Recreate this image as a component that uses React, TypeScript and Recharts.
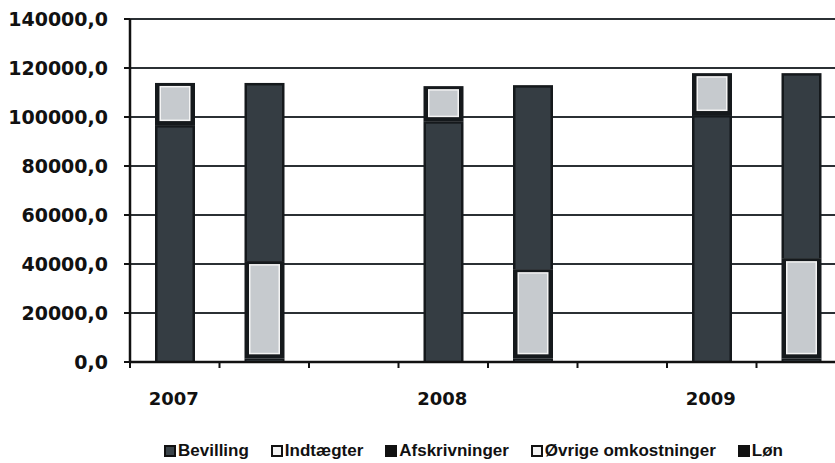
import { Bar, BarChart, CartesianGrid, XAxis, YAxis } from "recharts";

const years = ["2007", "2008", "2009"];
const bevilling = [96700, 98300, 100800];
const indtaegter = [17200, 14300, 17100];
const afskrivninger = [1500, 1500, 1500];
const ovrige = [39700, 36400, 40900];
const lon = [72700, 75100, 75500];
const yTicks = [0, 20000, 40000, 60000, 80000, 100000, 120000, 140000];

const series = [
  { key: "Bevilling", light: false, swatch: "#3a4349" },
  { key: "Indtægter", light: true, swatch: "#f2f2f2" },
  { key: "Afskrivninger", light: false, swatch: "#111" },
  { key: "Øvrige omkostninger", light: true, swatch: "#f2f2f2" },
  { key: "Løn", light: false, swatch: "#111" }
];

// each year: income bar, expense bar, empty gap
const data = years.flatMap((year, i) => [
  { cat: year, label: year, Bevilling: bevilling[i], "Indtægter": indtaegter[i] },
  {
    cat: year + "-u",
    label: "",
    Afskrivninger: afskrivninger[i],
    "Øvrige omkostninger": ovrige[i],
    "Løn": lon[i]
  },
  { cat: year + "-g", label: "" }
]);

const CHART_W = 950;
const MARGIN = { top: 19, right: 14.5, bottom: 61, left: 0 };
const Y_W = 130;
const BAND = (CHART_W - Y_W - MARGIN.right) / data.length;

function Segment(props: any) {
  const { x, y, width, height, light } = props;
  if (!height || height <= 0) return null;
  if (light) {
    const side = Math.min(4.5, width / 2);
    const top = Math.min(3, height / 2);
    const bottom = Math.min(4, height / 2);
    const w2 = Math.max(0, width - 2 * side);
    const h2 = Math.max(0, height - top - bottom);
    return (
      <g>
        <rect x={x} y={y} width={width} height={height} fill="#15191c" />
        <rect x={x + side} y={y + top} width={w2} height={h2} fill="#f4f4f4" />
        <rect
          x={x + side + 1.5}
          y={y + top + 1.5}
          width={Math.max(0, w2 - 3)}
          height={Math.max(0, h2 - 3)}
          fill="#c6cace"
        />
      </g>
    );
  }
  const inset = Math.min(2.5, height / 2);
  return (
    <g>
      <rect x={x} y={y} width={width} height={height} fill="#15191c" />
      <rect
        x={x + inset}
        y={y + inset}
        width={Math.max(0, width - 2 * inset)}
        height={Math.max(0, height - inset)}
        fill="#353d43"
      />
    </g>
  );
}

function XTick(props: any) {
  const { x, y, payload } = props;
  const row = data.find((d) => d.cat === payload.value);
  return (
    <g>
      <line x1={x - BAND / 2} x2={x - BAND / 2} y1={y} y2={y + 6} stroke="#111" strokeWidth={2} />
      <text
        x={x - 1}
        y={y + 42.5}
        textAnchor="middle"
        fill="#111"
        fontFamily="DejaVu Sans"
        fontWeight="bold"
        fontSize={18}
      >
        {row ? row.label : ""}
      </text>
    </g>
  );
}

export default function App() {
  return (
    <div
      style={{
        position: "absolute",
        top: 0,
        left: 0,
        width: 835,
        height: 463,
        overflow: "hidden",
        background: "#fff"
      }}
    >
      <BarChart width={CHART_W} height={463} data={data} margin={MARGIN} barSize={40}>
        <CartesianGrid vertical={false} stroke="#2b3034" strokeWidth={2} />
        <XAxis
          dataKey="cat"
          height={40}
          interval={0}
          tickSize={0}
          tickMargin={0}
          tickLine={false}
          axisLine={{ stroke: "#111", strokeWidth: 2.5 }}
          tick={<XTick />}
        />
        <YAxis
          width={Y_W}
          domain={[0, 140000]}
          ticks={yTicks}
          interval={0}
          tickSize={6}
          tickMargin={16}
          tickLine={{ stroke: "#111", strokeWidth: 2 }}
          axisLine={{ stroke: "#111", strokeWidth: 2.5 }}
          tickFormatter={(v: number) => v.toFixed(1).replace(".", ",")}
          tick={{ fill: "#111", fontFamily: "DejaVu Sans", fontWeight: "bold", fontSize: 19 }}
        />
        {series.map((s) => (
          <Bar
            key={s.key}
            dataKey={s.key}
            stackId="a"
            isAnimationActive={false}
            shape={(p: any) => <Segment {...p} light={s.light} />}
          />
        ))}
      </BarChart>
      <div
        style={{
          position: "absolute",
          top: 442,
          left: 0,
          width: 947,
          display: "flex",
          justifyContent: "center",
          gap: 22,
          fontFamily: "Liberation Sans",
          fontWeight: "bold",
          fontSize: 17,
          lineHeight: "18px",
          color: "#111"
        }}
      >
        {series.map((s) => (
          <div key={s.key} style={{ display: "flex", alignItems: "center", whiteSpace: "nowrap" }}>
            <span
              style={{
                display: "inline-block",
                width: 8,
                height: 8,
                border: "2px solid #111",
                background: s.swatch,
                marginRight: 2
              }}
            />
            {s.key}
          </div>
        ))}
      </div>
    </div>
  );
}
